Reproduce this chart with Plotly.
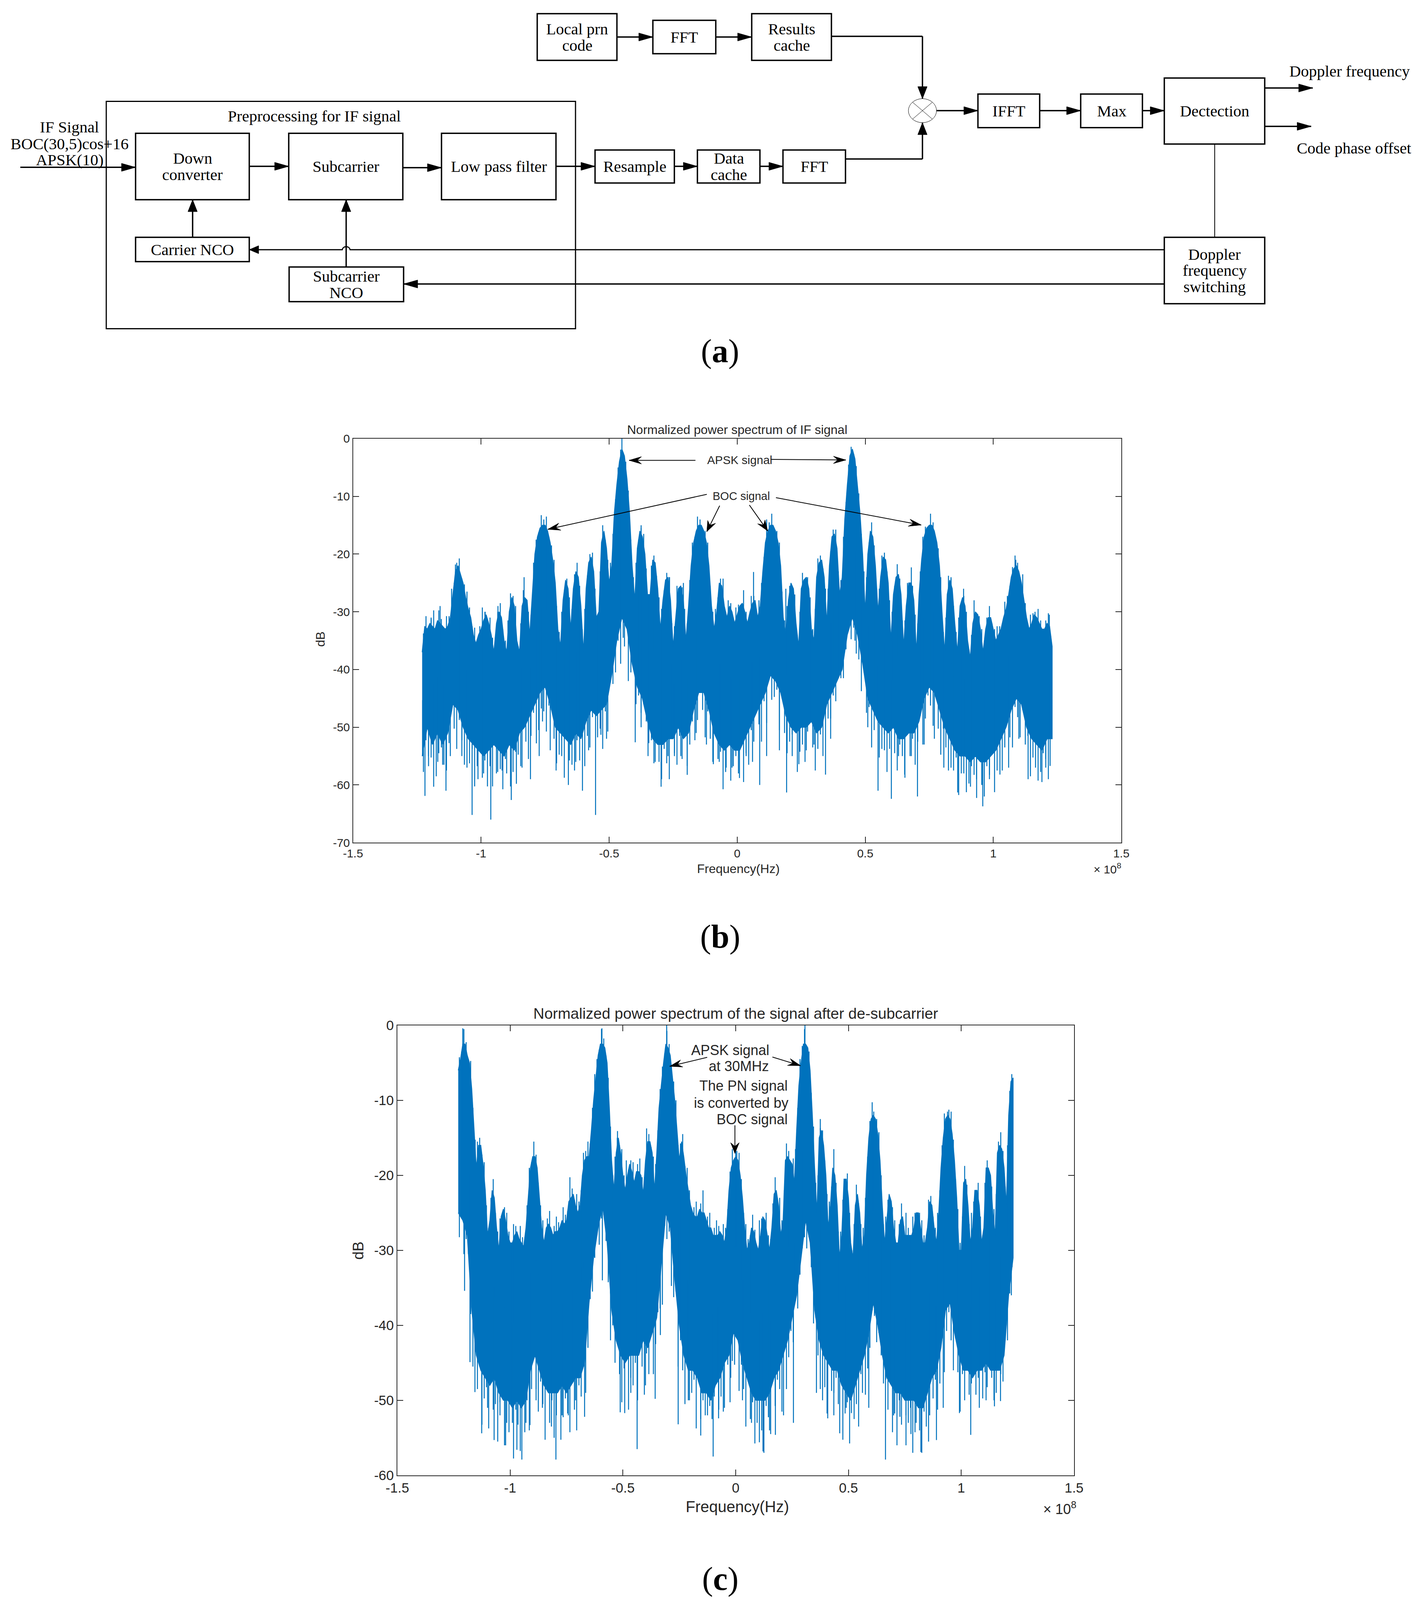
import numpy as np
import plotly.graph_objects as go

W, H = 3637, 4800
BLUE = "#0072BD"
INK = "#262626"

# ---------- panel (b) values, dB, frequency in units of 1e8 Hz ----------
b_upper = [
-37,-32.5,-33,-32,-32.5,-33,-31.5,-32,-32.5,-33,
-32.5,-31,-27,-23,-22,-23.5,-25,-27.5,-29.5,-31,
-34,-35.5,-34,-33,-31.5,-30.5,-32,-34,-37,-32,
-30,-31,-35,-37,-30,-27.5,-29,-35,-37,-29,
-27.5,-28,-34,-27,-20,-17,-15.5,-15,-15,-16,
-18,-21,-25,-33,-36,-28,-24.5,-26,-33,-26,
-23,-24,-29,-37,-26,-21.5,-20.5,-23,-31,-30,
-18,-16,-19,-25,-22,-13,-8,-4,-1.8,-3,
-7,-13,-22,-28,-19,-16,-17,-20,-27,-27,
-21,-21.5,-26,-33,-28,-24.5,-24,-28,-36,-31,
-26,-25.5,-28,-35,-29,-22,-18,-16,-15,-15,
-16,-18,-22,-29,-33,-30,-25,-25.5,-29,-31,
-29,-30,-32,-30.5,
-29,-28.5,-30,-32,-30,-28.5,-28,-31,-29,-23,
-18,-16,-15,-15,-16,-18,-22,-31,-34,-28,
-25,-26,-32,-36,-26,-24.5,-24,-26,-33,-35,
-24,-21.5,-21,-24,-32,-22,-17,-16.5,-19,-27,
-24,-14,-8,-3,-1.8,-3.5,-8,-13,-20,-30,
-20,-16,-17,-22,-30,-24,-20.5,-21,-25,-35,
-27,-24,-23.5,-27,-36,-29,-25,-25,-28,-37,
-27,-21,-17,-15.5,-15,-15,-16,-18,-22,-30,
-37,-27,-24.5,-26,-32,-37,-29,-27.5,-29,-35,
-38,-32,-30,-30.5,-33,-37,-33,-31,-31,-33,
-35,-34,-33,-31,-29.5,-27,-24,-22.5,-22,-23,
-25,-28,-31,-33,-32,-30.5,-31,-32,-33,-33,
-32,-32.5,-36]
b_lower = [
-55,-50,-53,-51,-53,-51,-46,-47,-50,-52,
-53,-54,-55,-54,-53,-54,-55,-53,-54,-51,
-50,-48,-46,-44,-43,-46,-50,-51,-52,-53,
-51,-52,-49,-47,-48,-47,-46,-41,-35,-31,
-33,-39,-43,-45,-49,-52,-53,-53,-52,-52,
-50,-52,-51,-47,-44,-44,-47,-51,-53,-54,
-53,-54,-54,-52,-50,-48,-46,-44,-41,-42,
-44,-48,-50,-51,-50,-50,-49,-51,-50,-46,
-44,-42,-40,-34,-31,-34,-39,-45,-47,-49,
-50,-51,-50,-52,-52,-51,-51,-49,-45,-43,
-44,-47,-50,-52,-54,-55,-55,-56,-55,-56,
-56,-55,-54,-52,-50,-47,-45,-46,-50,-52,
-53,-54,-52,-52]
b_down_x = [-1.228,-1.219,-1.205,-1.185,-1.169,-1.15,-1.137,-1.12,-1.075,-1.055,-1.035,-1.012,-0.99,-0.962,-0.94,-0.918,-0.9,-0.882,-0.862,-0.84,-0.807,-0.784,-0.773,-0.76,-0.73,-0.707,-0.685,-0.659,-0.63,-0.604,-0.58,-0.553,-0.532,-0.51,-0.44,-0.425,-0.398,-0.375,-0.348,-0.32,-0.297,-0.27,-0.245,-0.22,-0.195,-0.16,-0.12,-0.093,-0.07,-0.043,-0.02,0.009,0.035,0.06,0.088,0.115,0.165,0.193,0.215,0.241,0.27,0.3,0.345,0.365,0.46,0.51,0.55,0.575,0.602,0.63,0.654,0.68,0.704,0.73,0.77,0.807,0.835,0.861,0.885,0.911,0.935,0.959,0.985,1.026,1.06,1.1,1.136,1.165,1.19,1.205,1.222]
b_down_y = [-55,-61.9,-55,-60.3,-56,-56.5,-61,-55,-55,-57,-65.2,-59,-58,-66,-58,-57.5,-58,-62.6,-59.8,-57,-59,-52.8,-55,-49,-54,-57.5,-55,-60,-56,-61,-54,-65.2,-51.3,-52,-36,-42,-52.6,-50,-55,-56,-60.3,-55,-55,-55,-56.7,-51,-53,-56.4,-56,-57,-57,-58.8,-55,-56,-60,-55,-54,-61.3,-55,-56.4,-54,-53,-58.2,-52,-35,-50,-61,-54,-62.4,-55,-58.2,-55,-62,-53,-52,-57,-57,-61.3,-58,-60.3,-59,-63.7,-59,-58.2,-57,-52,-59,-57,-59.5,-57,-56.7]
b_up_x = [-1.16,-1.195,-1.10,-0.984,-0.934,-0.885,-0.832,-0.45,-0.375,-0.264,-0.21,0.064,0.19,0.68,0.835,0.884,1.088,1.163,1.219]
b_up_y = [-29,-31,-21.8,-30,-29,-26.8,-24,0,-15,-24,-25,-23.1,-26,-22.3,-24,-26,-21,-30,-30.5]
# how far the jagged edges reach past the band, dB, one per 1e6 Hz bin
b_jag_low = [
4,1,6,3,0,7,3,1,4,6,3,0,4,7,1,3,6,0,4,1,
7,3,0,4,1,6,3,7,0,4,3,6,1,0,7,4,1,3,6,0,
3,7,4,1,0,6,3,4,7,1,0,3,6,4,1,7,0,3,4,6,
1,4,0,7,3,6,1,0,4,3,7,1,6,0,3,4,1,7,3,0,
1,3,0,4,1,3,0,1,3,1,4,0,3,6,1,4,7,0,3,6,
1,4,0,7,3,1,6,4,0,3,7,1,4,6,0,3,1,7,4,0,
6,3,1,4,0,7,3,6,1,4,0,3,7,1,6,0,4,3,1,7,
0,4,6,3,1,0,7,4,3,6,1,0,4,7,3,1,6,0,3,4,
1,3,0,1,3,1,0,3,1,4,3,6,0,4,1,7,3,0,6,4,
1,7,3,0,4,6,1,3,7,0,4,1,6,3,0,7,4,1,3,6,
0,4,7,1,3,6,0,4,1,7,3,0,6,4,1,3,7,0,4,6,
1,3,0,7,4,1,6,3,0,4,7,1,3,6,0,4,1,7,3,0,
6,4,1,3,7,0]
b_jag_top = [
1,2,0,1,3,0,2,1,0,2,1,3,0,1,2,0,1,2,1,0,
2,0,1,3,1,0,2,1,0,1,2,0,1,2,0,1,3,0,1,2,
0,1,0,2,1,0,2,1,2,0,1,2,0,1,2,0,1,2,0,1,
2,1,0,2,0,1,2,1,0,1,2,0,1,2,1,0,1,1,0,1,
1,0,1,2,0,1,2,1,0,2,1,0,2,1,0,1,2,0,1,3,
0,1,2,0,1,2,0,2,1,0,1,2,0,1,2,0,1,3,0,2,
1,0,2,1,0,3,1,0,2,1,0,2,1,0,3,1,2,0,1,2,
0,1,2,1,0,2,0,1,2,0,1,2,1,0,2,1,0,2,1,0,
1,2,0,1,2,0,1,1,0,1,1,0,2,1,0,2,1,0,1,2,
1,0,2,1,0,2,1,0,1,2,0,1,2,0,1,2,1,0,2,1,
0,1,2,0,1,2,1,0,1,2,0,1,2,0,1,3,0,1,2,0,
1,2,0,1,2,1,0,2,1,0,1,2,1,0,3,1,0,2,1,0,
2,1,0,1,2,0]

# ---------- panel (c) values ----------
c_upper = [
-6,-4.5,-2.5,-2.5,-4,-5,-8.5,-13.5,-19,-16,
-16,-18.5,-22,-28,-26,-22,-23,-27,-30,-25.5,
-24.5,-26,-28,-29,-29,-28,-27.5,-28.5,-29,-29.5,
-27,-23,-19,-17.5,-17.5,-19,-23,-27,-29,-27,
-26.5,-27,-28,-27.5,-27.5,-27,-26,-26.5,-26,-23.5,
-23,-22.5,-24,-25,-24,-20,-18,-17.5,-17.5,-14,
-10,-7,-4,-2.5,-2.5,-3,-5,-11,-18,-22,
-17,-15,-17,-20,-22,-20,-18.5,-19.5,-21,-19.5,
-19.5,-20,-22.5,-18,-15.5,-15.5,-17,-22,-17,-11,
-8,-5,-2.5,-3,-4,-7,-10,-14,-18,-15.5,
-17.5,-20,-22,-24,-25,-25.5,-25.5,-24.5,-25,-25,
-26,-27,-27,-28,-28,-28,-27.5,-28,-29,-27,
-22,-19,-18,-17.5,
-18,-20,-23,-27,-30,-29,-27,-27.5,-29,-30,
-28,-25.5,-26,-28,-30,-27,-22.5,-22,-24,-28,
-26,-18,-17.5,-18,-18.5,-21,-14,-8,-5,-2.5,
-2.5,-3,-6,-12,-19,-25,-15,-14,-16,-20,
-27,-24,-19,-20,-24,-31,-28,-20.5,-20.5,-23,
-29,-31,-24,-22.5,-25,-30,-28,-20,-15,-12.5,
-12,-12.5,-14.5,-18,-24,-29,-26,-22.5,-23.5,-27,
-29,-29,-26,-25.5,-28,-28,-28,-28,-27,-25,
-25,-27,-29,-29,-27,-23.5,-24,-27,-29,-25,
-19,-15,-12.5,-12,-12.5,-14.5,-18,-23,-30,-30,
-21,-20.5,-24,-29,-27,-22,-22,-24,-29,-27,
-19,-19,-20,-25,-28,-17,-16,-16.5,-19,-24,
-12,-7.5,-7]
c_lower = [
-25,-26,-28,-38,-44,-46,-47,-48,-47,-49,
-50,-50,-51,-50,-51,-50,-46,-44,-46,-48,
-49,-49,-49,-48,-49,-48,-47,-47,-45,-37,
-31,-27,-24,-29,-38,-42,-44,-45,-44,-44,
-44,-42,-43,-41,-39,-32,-25,-27,-34,-40,
-44,-46,-46,-47,-49,-49,-50,-48,-47,-45,
-44,-41,-42,-45,-47,-49,-50,-50,-50,-49,
-47,-46,-44,-42,-39,-36,-31,-26,-29,-38,
-42,-44,-45,-46,-46,-48,-49,-50,-48,-46,
-44,-41,-37,-40,-44,-47,-48,-49,-49,-50,
-50,-50,-51,-51,-49,-47,-46,-43,-38,-37,
-41,-44,-46,-46,-47,-46,-46,-45,-46,-46,
-46,-44,-36,-31]
c_down_x = [-1.202,-1.178,-1.156,-1.126,-1.1,-1.071,-1.045,-1.02,-0.99,-0.97,-0.948,-0.93,-0.912,-0.885,-0.857,-0.817,-0.797,-0.77,-0.742,-0.71,-0.67,-0.591,-0.555,-0.512,-0.492,-0.465,-0.437,-0.4,-0.357,-0.334,-0.255,-0.21,-0.155,-0.125,-0.1,-0.076,-0.05,-0.022,0.03,0.07,0.105,0.121,0.15,0.176,0.212,0.256,0.358,0.385,0.408,0.435,0.461,0.49,0.513,0.562,0.59,0.664,0.7,0.728,0.755,0.777,0.8,0.821,0.86,0.89,0.92,0.992,1.042,1.08,1.11,1.147,1.174,1.222]
c_down_y = [-35.4,-44.9,-48.9,-54.4,-51,-55.3,-52,-56,-53,-56.6,-57.9,-53,-53.3,-50,-51,-53.5,-57.9,-52,-52,-50,-52.2,-34,-42,-51.6,-51.7,-49,-56.5,-48,-49.8,-41.3,-53.2,-50,-54.7,-52,-57.5,-52.4,-51,-47,-50,-53,-55.6,-56.8,-54,-54.6,-52,-53,-49,-50,-52.4,-49,-54.4,-51,-51.7,-49,-51,-57.9,-52,-52.2,-52,-54.5,-53,-56.9,-52,-55.3,-51,-51.7,-54.6,-51,-50,-50.8,-50.1,-36]
c_up_x = [-1.21,-0.593,-0.524,-0.306,0.0,0.307,0.375,0.612,0.939,1.224]
c_up_y = [-0.4,-0.4,-14.1,0,-16.5,0,-13.7,-11.5,-11.5,-6.5]
c_jag_low = [
3,0,4,1,0,3,6,1,4,0,7,3,1,6,0,4,3,7,1,0,
6,3,4,0,7,1,3,6,0,4,1,7,3,0,4,6,1,3,7,0,
4,1,6,3,0,7,4,1,3,6,0,4,7,1,3,0,6,4,1,3,
1,0,3,1,0,1,3,0,1,4,0,3,6,1,0,7,3,4,1,6,
0,3,7,1,4,0,6,3,1,4,7,0,3,1,6,4,0,7,1,3,
6,0,4,3,1,7,0,4,1,3,0,1,3,1,0,4,3,6,0,1,
7,3,4,0,6,1,3,7,0,4,1,6,3,0,4,7,1,3,6,0,
4,1,3,7,0,6,3,1,4,0,3,1,0,1,3,0,1,4,0,3,
6,1,4,7,0,3,6,1,4,0,7,3,1,6,0,4,3,7,1,0,
6,4,3,0,1,3,0,1,3,1,4,0,6,3,7,1,4,0,6,3,
1,7,4,0,3,6,1,4,7,0,3,1,6,4,0,7,3,1,4,6,
0,3,7,1,4,0,3,1,0,3,1,0,4,1,3,0,1,4,3,0,
1,3,0,4,1,0]
c_jag_top = [
1,0,2,1,0,2,0,1,2,1,0,2,1,0,1,2,0,1,2,0,
1,2,1,0,2,1,0,2,1,0,1,2,0,2,1,0,1,2,0,1,
2,0,1,2,1,0,2,1,0,3,1,0,2,1,0,2,1,2,0,1,
2,1,0,2,1,0,1,1,0,2,1,0,2,1,3,0,1,2,0,1,
2,1,0,3,1,0,2,1,0,1,1,0,2,1,0,1,2,0,1,2,
0,2,1,0,1,2,0,1,3,0,1,2,0,1,2,1,0,2,1,0,
1,2,0,1,2,1,0,2,1,0,2,1,0,3,1,0,2,1,0,1,
2,0,3,1,0,2,1,0,2,1,0,2,1,2,0,1,0,2,1,0,
2,1,0,1,2,0,3,1,0,2,1,0,2,1,0,1,2,0,1,2,
1,0,1,2,0,1,2,1,0,2,1,0,1,2,0,1,2,0,3,1,
0,2,1,0,1,2,1,0,2,1,0,1,2,0,1,2,0,1,2,1,
0,2,1,0,2,1,0,3,1,0,2,1,0,2,1,0,1,2,0,1,
2,1,0,2,1,0]

x_tick_vals = [-1.5,-1,-0.5,0,0.5,1,1.5]
x_tick_text = ["-1.5","-1","-0.5","0","0.5","1","1.5"]
b_y_ticks = [-70,-60,-50,-40,-30,-20,-10,0]
b_y_text = ["-70","-60","-50","-40","-30","-20","-10","0"]
c_y_ticks = [-60,-50,-40,-30,-20,-10,0]
c_y_text = ["-60","-50","-40","-30","-20","-10","0"]

# ---------- diagram (a) ----------
box_labels = [["Local prn","code"],["FFT"],["Results","cache"],["Down","converter"],["Subcarrier"],
              ["Low pass filter"],["Resample"],["Data","cache"],["FFT"],["Carrier NCO"],
              ["Subcarrier","NCO"],["IFFT"],["Max"],["Dectection"],["Doppler","frequency","switching"]]
box_rects = [(1375,41,1579,181),(1671,61,1832,161),(1924,41,2128,181),(347,400,638,599),(739,400,1031,599),
             (1130,400,1423,599),(1523,450,1726,549),(1785,450,1945,549),(2004,450,2164,549),(347,712,638,785),
             (740,801,1033,905),(2503,282,2661,383),(2766,282,2924,383),(2980,234,3237,432),(2980,712,3237,911)]
arrows = [[(52,502),(347,502)],[(638,499),(739,499)],[(1031,503),(1130,503)],[(1423,499),(1523,499)],
          [(1726,499),(1785,499)],[(1945,499),(2004,499)],[(493,712),(493,599)],[(886,801),(886,599)],
          [(2980,852),(1033,852)],[(1579,111),(1671,111)],[(1832,111),(1924,111)],
          [(2128,109),(2361,109),(2361,296)],[(2164,477),(2361,477),(2361,368)],
          [(2397,332),(2503,332)],[(2661,332),(2766,332)],[(2924,332),(2980,332)],
          [(3237,264),(3360,264)],[(3237,379),(3356,379)]]
free_text = [("Preprocessing for IF signal",804,348),("IF Signal",178,381),("BOC(30,5)cos+16",178,431),
             ("APSK(10)",178,479),("Doppler frequency",3454,213),("Code phase offset",3466,444)]

fig = go.Figure()
PANELS = [
 dict(up=b_upper, lo=b_lower, dx=b_down_x, dy=b_down_y, ux=b_up_x, uy=b_up_y, jl=b_jag_low, ju=b_jag_top, xa="x", ya="y"),
 dict(up=c_upper, lo=c_lower, dx=c_down_x, dy=c_down_y, ux=c_up_x, uy=c_up_y, jl=c_jag_low, ju=c_jag_top, xa="x2", ya="y2"),
]
for p in PANELS:
    xu = np.round(np.arange(-123, 124) / 100, 2)
    xl = np.round(np.arange(-123, 124, 2) / 100, 2)
    assert len(p["up"]) == len(xu), len(p["up"])
    assert len(p["lo"]) == len(xl), len(p["lo"])
    fig.add_trace(go.Scatter(x=np.r_[xl, xu[::-1]], y=np.r_[p["lo"], p["up"][::-1]], mode="lines", fill="toself",
                             fillcolor=BLUE, line=dict(color=BLUE, width=2), xaxis=p["xa"], yaxis=p["ya"], hoverinfo="skip"))
    sx, sy = [], []
    for a, b in list(zip(p["dx"], p["dy"])) + list(zip(p["ux"], p["uy"])):
        mid = (np.interp(a, xu, p["up"]) + np.interp(a, xl, p["lo"])) / 2
        sx += [a, a, None]; sy += [mid, b, None]
    xj = (np.arange(246) - 122.5) / 100
    for a, lo, hi in zip(xj, p["jl"], p["ju"]):
        up_e, lo_e = np.interp(a, xu, p["up"]), np.interp(a, xl, p["lo"])
        mid = (up_e + lo_e) / 2
        sx += [a, a, None, a, a, None]; sy += [mid, lo_e - lo, None, mid, up_e + hi, None]
    fig.add_trace(go.Scatter(x=sx, y=sy, mode="lines", line=dict(color=BLUE, width=2.5),
                             xaxis=p["xa"], yaxis=p["ya"], hoverinfo="skip"))

shapes, annots = [], []
def line(x0, y0, x1, y1, w=3.5):
    shapes.append(dict(type="line", xref="x3", yref="y3", x0=x0, y0=y0, x1=x1, y1=y1, line=dict(color="black", width=w)))
def text(t, x, y, size=41, family="Liberation Serif", color="black", **kw):
    annots.append(dict(text=t, x=x, y=y, xref="x3", yref="y3", showarrow=False, font=dict(family=family, size=size, color=color),
                       xanchor=kw.get("xanchor", "center"), yanchor="middle"))
def head(tipx, tipy, dx, dy, L=36, hw=12, notch=0.0):
    bx, by = tipx - dx * L, tipy - dy * L
    nx, ny = tipx - dx * L * (1 - notch), tipy - dy * L * (1 - notch)
    px, py = -dy * hw, dx * hw
    shapes.append(dict(type="path", xref="x3", yref="y3",
                       path=f"M {tipx} {tipy} L {bx+px} {by+py} L {nx} {ny} L {bx-px} {by-py} Z",
                       fillcolor="black", line=dict(color="black", width=1)))
for labels, (x0, y0, x1, y1) in zip(box_labels, box_rects):
    shapes.append(dict(type="rect", xref="x3", yref="y3", x0=x0, y0=y0, x1=x1, y1=y1, line=dict(color="black", width=3.5)))
    cx, cy = (x0 + x1) / 2, (y0 + y1) / 2
    for i, l in enumerate(labels):
        text(l, cx, cy + (i - (len(labels) - 1) / 2) * 49)
shapes.append(dict(type="rect", xref="x3", yref="y3", x0=272, y0=304, x1=1473, y1=986, line=dict(color="black", width=3)))
for a in arrows:
    for (p, q) in zip(a[:-1], a[1:]):
        line(p[0], p[1], q[0], q[1])
    (p, q) = a[-2], a[-1]
    n = np.hypot(q[0]-p[0], q[1]-p[1])
    head(q[0], q[1], (q[0]-p[0])/n, (q[1]-p[1])/n)
# feedback line with hop over the subcarrier line
shapes.append(dict(type="path", xref="x3", yref="y3", path="M 2980 749 L 896 749 C 894 737, 878 737, 876 749 L 638 749",
                   line=dict(color="black", width=3)))
head(638, 749, -1, 0, L=24)
line(3109, 432, 3109, 712, 2)
shapes.append(dict(type="circle", xref="x3", yref="y3", x0=2325, y0=296, x1=2397, y1=368, line=dict(color="black", width=1)))
line(2336, 307, 2386, 357, 1); line(2336, 357, 2386, 307, 1)
for t, x, y in free_text:
    text(t, x, y)
for lab, y in (("a", 1054), ("b", 2810), ("c", 4737)):
    text(f"(<b>{lab}</b>)", 1843, y, size=84, family="Liberation Serif")

SANS = "Liberation Sans"
text("Normalized power spectrum of IF signal", 1887, 1289, size=32, family=SANS, color=INK)
text("Frequency(Hz)", 1890, 2606, size=32, family=SANS, color=INK)
text("dB", 820, 1918, size=32, family=SANS, color=INK); annots[-1]["textangle"] = -90
text("× 10<sup>8</sup>", 2834, 2605, size=30, family=SANS, color=INK)
text("APSK signal", 1893, 1380, size=30, family=SANS, color=INK)
text("BOC signal", 1897, 1488, size=29, family=SANS, color=INK)

text("Normalized power spectrum of the signal after de-subcarrier", 1883, 3041, size=39, family=SANS, color=INK)
text("Frequency(Hz)", 1887, 4520, size=40, family=SANS, color=INK)
text("dB", 917, 3752, size=38, family=SANS, color=INK); annots[-1]["textangle"] = -90
text("× 10<sup>8</sup>", 2712, 4525, size=36, family=SANS, color=INK)
text("APSK signal", 1869, 3150, size=36, family=SANS, color=INK)
text("at 30MHz", 1891, 3199, size=36, family=SANS, color=INK)
text("The PN signal", 1903, 3257, size=36, family=SANS, color=INK)
text("is converted by", 1897, 3309, size=36, family=SANS, color=INK)
text("BOC signal", 1925, 3358, size=36, family=SANS, color=INK)

pointer_arrows = [((1780,1381),(1610,1381)),((1972,1378),(2165,1380)),((1809,1483),(1402,1588)),((1842,1517),(1809,1595)),
                  ((1918,1515),(1965,1593)),((1986,1493),(2358,1575)),((1810,3172),(1714,3199)),((1977,3171),(2049,3197)),
                  ((1881,3376),(1881,3460))]
for (a, b) in pointer_arrows:
    line(a[0], a[1], b[0], b[1], 2)
    n = np.hypot(b[0]-a[0], b[1]-a[1])
    head(b[0], b[1], (b[0]-a[0])/n, (b[1]-a[1])/n, L=32, hw=11, notch=0.35)

def xax(dom, ticksize):
    return dict(domain=[dom[0]/W, dom[1]/W], range=[-1.5, 1.5], tickvals=x_tick_vals, ticktext=x_tick_text, ticks="inside",
                ticklen=15, tickwidth=2, tickcolor=INK, showgrid=False, zeroline=False, showline=True, mirror="ticks",
                linecolor=INK, linewidth=2, tickfont=dict(family=SANS, size=ticksize, color=INK))
def yax(dom, rng, vals, labels, ticksize):
    return dict(domain=[1-dom[1]/H, 1-dom[0]/H], range=rng, tickvals=vals, ticktext=labels, ticks="inside",
                ticklen=15, tickwidth=2, tickcolor=INK, showgrid=False, zeroline=False, showline=True, mirror="ticks",
                linecolor=INK, linewidth=2, tickfont=dict(family=SANS, size=ticksize, color=INK))

fig.update_layout(
    autosize=True, margin=dict(l=0, r=0, t=0, b=0, autoexpand=False), showlegend=False,
    paper_bgcolor="white", plot_bgcolor="rgba(0,0,0,0)",
    xaxis=xax((903.5, 2870), 30), yaxis=yax((1316, 2528), [-70, 0], b_y_ticks, b_y_text, 30),
    xaxis2=dict(xax((1017, 2749), 35), anchor="y2"), yaxis2=dict(yax((3076, 4426), [-60, 0], c_y_ticks, c_y_text, 35), anchor="x2"),
    xaxis3=dict(domain=[0, 1], range=[0, W], visible=False, anchor="y3"),
    yaxis3=dict(domain=[0, 1], range=[H, 0], visible=False, anchor="x3"),
    shapes=shapes, annotations=annots,
)
fig.add_trace(go.Scatter(x=[0], y=[0], xaxis="x3", yaxis="y3", mode="markers", marker=dict(opacity=0), hoverinfo="skip"))
fig.write_html("out.html", config={"displayModeBar": False}, default_width="100%", default_height="100%",
               post_script="document.documentElement.style.height='100%';document.body.style.height='100%';document.body.style.margin='0';document.body.style.overflow='hidden';Plotly.Plots.resize(document.querySelector('.plotly-graph-div'));")
